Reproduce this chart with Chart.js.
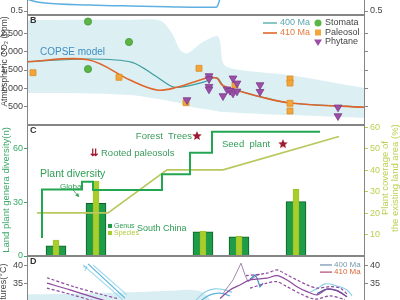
<!DOCTYPE html>
<html>
<head>
<meta charset="utf-8">
<script src="https://cdn.jsdelivr.net/npm/chart.js@4/dist/chart.umd.min.js"></script>
<style>
html, body { margin: 0; padding: 0; background: #fff; }
#wrap { position: relative; width: 400px; height: 300px; overflow: hidden; }
canvas { position: absolute; left: 0; }
</style>
</head>
<body>
<div id="wrap">
  <canvas id="pa" width="400" height="95" style="top:-70px"></canvas>
  <canvas id="pb" width="400" height="150" style="top:-5px"></canvas>
  <canvas id="pc" width="400" height="171" style="top:105px"></canvas>
  <canvas id="pd" width="400" height="114" style="top:236px"></canvas>
</div>
<script>
// x is the position along the shared time axis, 0 = left frame, 338 = right frame

// panel A (only the bottom edge is visible)
const aX = [0, 6, 18, 63, 103, 140, 188, 190, 192, 193];
const aY = [0.65, 0.625, 0.6, 0.575, 0.5625, 0.554, 0.546, 0.554, 0.6125, 0.6625];
const aTicks = [0.5, 1.0];

// panel B - atmospheric CO2
const bandX  = [0, 60, 103, 133, 145, 153, 160, 175, 190, 193, 197, 213, 263, 338];
const bandHi = [2860, 2870, 2865, 2850, 2500, 2050, 1950, 2250, 2430, 2300, 1650, 1500, 1360, 1010];
const bandLo = [873, 860, 818, 700, 640, 590, 520, 440, 380, 360, 355, 330, 270, 190];
const ma410X = [0, 61, 103, 130, 150, 173, 181, 190, 195, 206, 233, 263, 338];
const ma410Y = [1726, 1780, 1227, 955, 1028, 1227, 1290, 1273, 1091, 974, 772, 600, 483];
const ma400X = [0, 61, 105, 130, 148, 178, 186, 191, 198, 206, 233, 263, 338];
const ma400Y = [1726, 1800, 1710, 1310, 1028, 1181, 1282, 1268, 1009, 974, 772, 600, 483];
const stomataX = [61, 102, 61];
const stomataY = [2822, 2264, 1527];
const paleosolX = [6, 92, 172, 159, 208, 263, 263, 263, 263];
const paleosolY = [1426, 1301, 1546, 608, 1091, 1254, 1145, 592, 382];
const phytaneX = [160, 182, 182, 182, 182, 196, 200, 206, 210, 203, 206, 210, 233, 233, 311, 311];
const phytaneY = [682, 1336, 1254, 1045, 974, 791, 974, 1274, 1137, 935, 864, 919, 1091, 908, 483, 245];
const bTicks = [500, 1000, 1500, 2000, 2500];

// panel C - plant diversity and coverage
const globalX = [15, 15, 55, 66, 135, 163, 185, 233, 293];
const globalY = [10, 20.4, 37, 41.3, 36.7, 45.4, 57.4, 69, 69];
const coverX = [10, 81, 140, 196, 312];
const coverY = [20.1, 20.1, 40.1, 40.1, 55.6];
const barX = [29, 69, 176, 212, 269];
const genus = [5.6, 29.3, 13.5, 10.7, 30.2];
const species = [8.9, 41.7, 13.9, 11, 37];
const starX = [170, 256];
const starY = [66.7, 62.2];
const cTicks = [0, 30, 60];
const cTicksRight = [10, 20, 30, 40, 50, 60];

// panel D - temperatures
const dShadeX = [0, 40, 80, 120, 150, 165, 175, 185];
const dShadeY = [31.9, 32.1, 32.4, 32.7, 33.0, 33.2, 32.6, 30.0];
const dPurpleLX = [20, 43, 70, 80];
const dPurpleLY = [35.1, 33.2, 30.8, 30.0];
const dPurpleUX = [20, 48, 76, 90];
const dPurpleUY = [36.6, 34.0, 31.8, 30.8];
const dPurpleDX = [20, 43, 63, 70];
const dPurpleDY = [33.7, 32.0, 30.4, 30.0];
const dBlue1X = [56, 96];
const dBlue1Y = [40.2, 30.4];
const dBlue2X = [61, 98];
const dBlue2Y = [40.5, 30.9];
const dBlue3X = [66, 100];
const dBlue3Y = [40.2, 31.8];
const dMainX = [193, 203, 213, 223, 240, 250, 260, 270, 280, 290, 300, 310, 320];
const dMainY = [30.8, 33.2, 34.6, 36.0, 36.5, 37.2, 36.0, 34.1, 32.7, 31.8, 33.4, 33.0, 31.3];
const dUpX = [219, 240, 250, 260, 270, 280, 290, 303, 313, 321];
const dUpY = [37.2, 37.9, 38.8, 37.4, 36.0, 34.6, 33.7, 34.1, 33.7, 31.8];
const dLowX = [223, 240, 250, 260, 273, 288, 303, 318];
const dLowY = [33.7, 35.1, 35.5, 34.1, 32.2, 30.6, 31.5, 30.5];
const dSpikeX = [196, 206, 214, 218, 221, 228, 233];
const dSpikeY = [32.2, 36.0, 40.7, 37.4, 35.5, 36.9, 37.6];
const dBlueVX = [223, 228, 230, 233, 236];
const dBlueVY = [36.2, 37.4, 36.5, 34.1, 35.1];
const dArc1X = [169, 178, 188, 198, 205];
const dArc1Y = [30.4, 32.6, 33.5, 33.2, 32.5];
const dArc2X = [173, 183, 193, 203];
const dArc2Y = [30.0, 31.8, 32.3, 31.5];
const dArc3X = [283, 291, 298, 310, 320, 325];
const dArc3Y = [32.5, 33.7, 34.9, 34.3, 33.2, 31.5];
const dDarkX = [290, 300, 310, 320];
const dDarkY = [32.2, 33.4, 33.0, 31.3];
const dTicks = [35, 40];

const FONT = '"Liberation Sans", Arial, sans-serif';
Chart.defaults.font.family = FONT;
Chart.defaults.font.size = 9;
Chart.defaults.color = '#444';
Chart.defaults.animation = false;
Chart.defaults.events = [];
Chart.defaults.plugins.legend.display = false;
Chart.defaults.plugins.tooltip.enabled = false;
Chart.defaults.elements.point.radius = 0;
Chart.defaults.elements.line.borderWidth = 1.2;

function pts(xs, ys) {
  return xs.map(function (x, i) { return {x: x, y: ys[i]}; });
}

const xAxis = {type: 'linear', min: 0, max: 338, display: false, offset: false};

function yAxis(side, min, max, ticks, tickColor, labelColor, showLabels) {
  return {
    position: side, min: min, max: max,
    afterBuildTicks: function (s) { s.ticks = ticks.map(function (v) { return {value: v}; }); },
    afterFit: function (s) { s.width = side === 'left' ? 27 : 35; },
    border: {display: false},
    grid: {drawOnChartArea: false, tickLength: 3, color: tickColor},
    ticks: {padding: side === 'left' ? 1 : 2, color: labelColor, display: showLabels !== false}
  };
}

function frame(letter) {
  return {
    id: 'frame',
    afterDraw: function (chart) {
      var a = chart.chartArea, c = chart.ctx;
      c.save();
      c.strokeStyle = '#858585';
      c.lineWidth = 1;
      c.strokeRect(a.left + 0.5, a.top + 0.5, a.width - 1, a.height - 1);
      if (letter) {
        c.fillStyle = '#333';
        c.font = 'bold 9px ' + FONT;
        c.textBaseline = 'middle';
        c.fillText(letter, a.left + 3, a.top + 5.5);
      }
      c.restore();
    }
  };
}

// text and legend keys, placed in data units
function notes(items) {
  return {
    id: 'notes',
    afterDatasetsDraw: function (chart) {
      var c = chart.ctx, sx = chart.scales.x;
      items.forEach(function (n) {
        var sy = chart.scales[n.axis || 'y'];
        var px = sx.getPixelForValue(n.x), py = sy.getPixelForValue(n.y);
        c.save();
        c.fillStyle = c.strokeStyle = n.color || '#444';
        c.lineWidth = n.width || 1.2;
        if (n.kind === 'line') {
          c.beginPath(); c.moveTo(px, py); c.lineTo(px + n.len, py); c.stroke();
        } else if (n.kind === 'dot') {
          c.beginPath(); c.arc(px, py, n.r || 3.5, 0, 2 * Math.PI); c.fill();
        } else if (n.kind === 'sq') {
          var r = n.r || 3;
          c.fillRect(px - r, py - r, 2 * r, 2 * r);
        } else if (n.kind === 'tri') {
          var t = n.r || 4;
          c.beginPath(); c.moveTo(px - t, py - t * 0.6); c.lineTo(px + t, py - t * 0.6);
          c.lineTo(px, py + t); c.closePath(); c.fill();
        } else if (n.kind === 'arrow') {
          var qx = sx.getPixelForValue(n.x2), qy = sy.getPixelForValue(n.y2);
          var ang = Math.atan2(qy - py, qx - px);
          c.beginPath(); c.moveTo(px, py); c.lineTo(qx, qy); c.stroke();
          c.beginPath(); c.moveTo(qx, qy);
          c.lineTo(qx - 4 * Math.cos(ang - 0.5), qy - 4 * Math.sin(ang - 0.5));
          c.lineTo(qx - 4 * Math.cos(ang + 0.5), qy - 4 * Math.sin(ang + 0.5));
          c.closePath(); c.fill();
        } else {
          c.translate(px, py);
          if (n.rot) c.rotate(n.rot * Math.PI / 180);
          c.font = (n.bold ? 'bold ' : '') + (n.size || 9) + 'px ' + FONT;
          c.textAlign = n.align || 'left';
          c.textBaseline = 'middle';
          c.fillText(n.text, 0, 0);
        }
        c.restore();
      });
    }
  };
}

function starImg(r, color) {
  var cv = document.createElement('canvas');
  cv.width = cv.height = 2 * r + 2;
  var g = cv.getContext('2d');
  g.fillStyle = color;
  g.beginPath();
  for (var i = 0; i < 10; i++) {
    var rr = i % 2 ? r * 0.45 : r;
    var a = -Math.PI / 2 + i * Math.PI / 5;
    g.lineTo(r + 1 + rr * Math.cos(a), r + 1 + rr * Math.sin(a));
  }
  g.closePath();
  g.fill();
  return cv;
}

// ---------- A ----------
new Chart(document.getElementById('pa'), {
  type: 'line',
  data: {datasets: [{data: pts(aX, aY), borderColor: '#5fb0e0', borderWidth: 1.5, cubicInterpolationMode: 'monotone'}]},
  options: {
    responsive: false,
    layout: {padding: {top: 15, bottom: 10, left: 0, right: 0}},
    scales: {
      x: xAxis,
      y: yAxis('left', 0.45, 1.325, aTicks, '#858585', '#444'),
      y2: yAxis('right', 0.45, 1.325, aTicks, '#858585', '#444')
    }
  },
  plugins: [frame(''), notes([])]
});

// ---------- B ----------
const notesB = [
  {text: 'COPSE model', x: 13, y: 1990, color: '#3d8ec2', size: 10},
  {kind: 'line', x: 236, y: 2782, len: 14, color: '#3aa0a0'},
  {text: '400 Ma', x: 253, y: 2782, color: '#5aa6ae'},
  {kind: 'line', x: 236, y: 2509, len: 14, color: '#e0672c', width: 1.6},
  {text: '410 Ma', x: 253, y: 2509, color: '#e27a3c'},
  {kind: 'dot', x: 291, y: 2782, color: '#5cb545'},
  {text: 'Stomata', x: 298, y: 2782},
  {kind: 'sq', x: 291, y: 2523, color: '#f2a63a'},
  {text: 'Paleosol', x: 298, y: 2523},
  {kind: 'tri', x: 291, y: 2264, color: '#9b4ea6'},
  {text: 'Phytane', x: 298, y: 2264},
  {text: 'Atmospheric CO\u2082 (ppm)', x: -22, y: 1732, rot: -90, align: 'center', size: 8.5}
];
new Chart(document.getElementById('pb'), {
  type: 'line',
  data: {datasets: [
    {data: pts(phytaneX, phytaneY), showLine: false, pointStyle: 'triangle', pointRotation: 180, pointRadius: 4.5,
     pointBackgroundColor: '#9b4ea6', pointBorderColor: '#7d3a8c', pointBorderWidth: 0.8},
    {data: pts(paleosolX, paleosolY), showLine: false, pointStyle: 'rect', pointRadius: 4.2,
     pointBackgroundColor: '#f2a63a', pointBorderColor: '#e08a20', pointBorderWidth: 0.8},
    {data: pts(stomataX, stomataY), showLine: false, pointStyle: 'circle', pointRadius: 3.6,
     pointBackgroundColor: '#5cb545', pointBorderColor: '#3f9a35', pointBorderWidth: 0.8},
    {data: pts(ma410X, ma410Y), borderColor: '#e0652a', borderWidth: 1.6, tension: 0.35},
    {data: pts(ma400X, ma400Y), borderColor: '#3a9c9c', borderWidth: 1.2, tension: 0.3},
    {data: pts(bandX, bandHi), borderWidth: 0, fill: '+1', backgroundColor: '#dcf0f4', tension: 0.3},
    {data: pts(bandX, bandLo), borderWidth: 0, tension: 0.3}
  ]},
  options: {
    responsive: false,
    layout: {padding: {top: 20, bottom: 20, left: 0, right: 0}},
    scales: {
      x: xAxis,
      y: yAxis('left', 0, 3000, bTicks, '#858585', '#444'),
      y2: yAxis('right', 0, 3000, bTicks, '#858585', '#444', false)
    }
  },
  plugins: [frame('B'), notes(notesB)]
});

// ---------- C ----------
const notesC = [
  {text: 'Forest  Trees', x: 165, y: 66.7, align: 'right', color: '#3a9a5c', size: 9.5},
  {text: '\u21CA', x: 67, y: 57.2, align: 'center', color: '#a3182e', size: 10, bold: true},
  {text: 'Rooted paleosols', x: 74, y: 57.2, color: '#3a9a5c', size: 9.5},
  {text: 'Plant diversity', x: 13, y: 45.6, color: '#2f9e55', size: 10.5},
  {text: 'Global', x: 33, y: 38.3, color: '#2f9e55', size: 8},
  {kind: 'arrow', x: 46, y: 36.7, x2: 52, y2: 32.8, color: '#2f9e55', width: 0.8},
  {text: 'Seed  plant', x: 195, y: 62.2, color: '#2f9e55', size: 9.5},
  {kind: 'sq', x: 83, y: 16.7, color: '#1e9c48', r: 2},
  {text: 'Genus', x: 87, y: 16.7, color: '#2f9e55', size: 7},
  {kind: 'sq', x: 83, y: 12.8, color: '#a9cd2b', r: 2},
  {text: 'Species', x: 87, y: 12.8, color: '#b5c83a', size: 7},
  {text: 'South China', x: 110, y: 15, color: '#2f9e55', size: 9},
  {text: 'Land plant genera diversity(n)', x: -21, y: 36.7, rot: -90, align: 'center', color: '#3aa868', size: 9.5},
  {text: 'Plant coverage of', x: 358, y: 43.3, rot: -90, align: 'center', color: '#bccf50', size: 9.5},
  {text: 'the existing land area (%)', x: 368, y: 43.3, rot: -90, align: 'center', color: '#bccf50', size: 9.5}
];
new Chart(document.getElementById('pc'), {
  type: 'bar',
  data: {datasets: [
    {type: 'line', data: pts(starX, starY), showLine: false, pointStyle: starImg(5, '#9b1b30'), pointRadius: 5},
    {type: 'line', data: pts(globalX, globalY), stepped: 'after', borderColor: '#22a652', borderWidth: 2},
    {type: 'line', data: pts(coverX, coverY), yAxisID: 'y2', borderColor: '#b9c75d', borderWidth: 1.6},
    {type: 'bar', data: pts(barX, species), backgroundColor: '#a9cd2b', borderColor: '#8fb020', borderWidth: 0.5,
     barThickness: 6, grouped: false},
    {type: 'bar', data: pts(barX, genus), backgroundColor: '#1e9c48', borderColor: '#0e5e2a', borderWidth: 1,
     barThickness: 20, grouped: false}
  ]},
  options: {
    responsive: false,
    layout: {padding: {top: 20, bottom: 20, left: 0, right: 0}},
    scales: {
      x: xAxis,
      y: yAxis('left', 0, 72.8, cTicks, '#3aa868', '#3aa868'),
      y2: yAxis('right', 0, 61, cTicksRight, '#bccf50', '#bccf50')
    }
  },
  plugins: [frame('C'), notes(notesC)]
});

// ---------- D ----------
const notesD = [
  {text: '?', x: 56, y: 39.2, color: '#5ab4dc', size: 8},
  {kind: 'line', x: 293, y: 40.2, len: 12, color: '#6f8fa8'},
  {text: '400 Ma', x: 307, y: 40.2, color: '#7a98aa', size: 8},
  {kind: 'line', x: 293, y: 38.2, len: 12, color: '#b0486e'},
  {text: '410 Ma', x: 307, y: 38.2, color: '#d8663a', size: 8},
  {text: 'Sea surface temperatures(\u00B0C)', x: -23, y: 40.6, rot: -90, align: 'right', color: '#444', size: 9}
];
const purple = '#8e4a9e';
new Chart(document.getElementById('pd'), {
  type: 'line',
  data: {datasets: [
    {data: pts(dMainX, dMainY), borderColor: purple, tension: 0.3},
    {data: pts(dUpX, dUpY), borderColor: purple, borderDash: [3, 2], tension: 0.3},
    {data: pts(dLowX, dLowY), borderColor: purple, borderDash: [3, 2], tension: 0.3},
    {data: pts(dSpikeX, dSpikeY), borderColor: '#9a78a8', borderWidth: 0.9},
    {data: pts(dBlueVX, dBlueVY), borderColor: '#3a90c8'},
    {data: pts(dDarkX, dDarkY), borderColor: '#3c5c9c', tension: 0.3},
    {data: pts(dArc1X, dArc1Y), borderColor: '#8fd0e8', tension: 0.4},
    {data: pts(dArc2X, dArc2Y), borderColor: '#5ab4dc', tension: 0.4},
    {data: pts(dArc3X, dArc3Y), borderColor: '#8fd0e8', tension: 0.4},
    {data: pts(dPurpleLX, dPurpleLY), borderColor: purple, tension: 0.3},
    {data: pts(dPurpleUX, dPurpleUY), borderColor: purple, borderDash: [3, 2], tension: 0.3},
    {data: pts(dPurpleDX, dPurpleDY), borderColor: purple, borderDash: [3, 2], tension: 0.3},
    {data: pts(dBlue1X, dBlue1Y), borderColor: '#a6dcec'},
    {data: pts(dBlue2X, dBlue2Y), borderColor: '#5ab4dc'},
    {data: pts(dBlue3X, dBlue3Y), borderColor: '#a6dcec'},
    {data: pts(dShadeX, dShadeY), borderWidth: 0, fill: 'start', backgroundColor: '#d8eef2', tension: 0.4}
  ]},
  options: {
    responsive: false,
    layout: {padding: {top: 20, bottom: 10, left: 0, right: 0}},
    scales: {
      x: xAxis,
      y: yAxis('left', 19.13, 42.72, dTicks, '#858585', '#444'),
      y2: yAxis('right', 19.13, 42.72, dTicks, '#858585', '#444')
    }
  },
  plugins: [frame('D'), notes(notesD)]
});
</script>
</body>
</html>
